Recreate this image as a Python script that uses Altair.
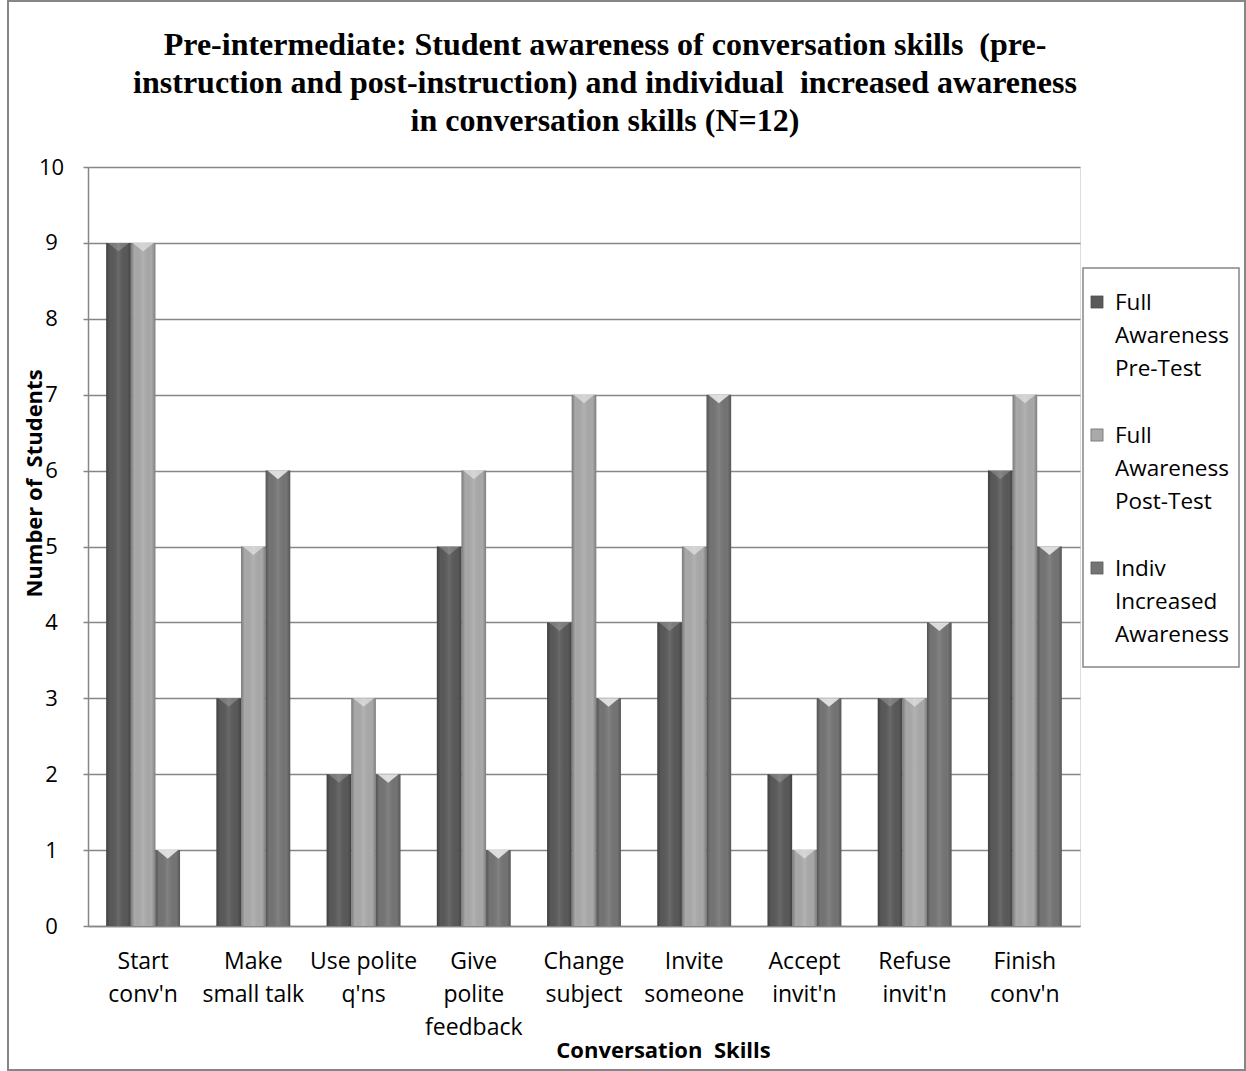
import altair as alt
import pandas as pd

categories = ["Start\nconv'n", "Make\nsmall talk", "Use polite\nq'ns", "Give\npolite\nfeedback",
              "Change\nsubject", "Invite\nsomeone", "Accept\ninvit'n", "Refuse\ninvit'n", "Finish\nconv'n"]
series = ["Full Awareness Pre-Test", "Full Awareness Post-Test", "Indiv Increased Awareness"]
legend_lines = [["Full", "Awareness", "Pre-Test"], ["Full", "Awareness", "Post-Test"],
                ["Indiv", "Increased", "Awareness"]]
pre_test = [9, 3, 2, 5, 4, 4, 2, 3, 6]
post_test = [9, 5, 3, 6, 7, 5, 1, 3, 7]
increased = [1, 6, 2, 1, 3, 7, 3, 4, 5]
colors = ["#595959", "#a9a9a9", "#747474"]
top_glow = [0.2, 0.75, 0.3]
NB = "\u00a0"
title_lines = ["Pre-intermediate: Student awareness of conversation skills" + NB + " (pre-",
               "instruction and post-instruction) and individual" + NB + " increased awareness",
               "in conversation skills (N=12)"]
x_title = "Conversation" + NB + " Skills"
y_title = "Number of" + NB + " Students"

rows = []
for s, vals in zip(series, [pre_test, post_test, increased]):
    for c, v in zip(categories, vals):
        rows.append({"category": c, "series": s, "value": v})
df = pd.DataFrame(rows)

W, H = 992, 759
GRAY = "#868686"
FONT = "Open Sans"

x_enc = alt.X("category:N", sort=categories,
              scale=alt.Scale(paddingInner=0.33, paddingOuter=0.165),
              axis=alt.Axis(title=x_title, labelAngle=0, ticks=False, tickSize=0,
                            labelExpr="split(datum.label, '\\n')", labelLineHeight=33,
                            labelBaseline="top", labelPadding=24, labelFont=FONT, labelFontSize=23,
                            labelColor="#000", domainColor=GRAY, domainWidth=1.5, grid=False,
                            titleFont=FONT, titleFontSize=22, titleFontWeight="bold",
                            titleColor="#000", titleX=575, titleY=124, titleBaseline="middle",
                            titleAnchor="start", titleAlign="center"))
xoff = alt.XOffset("series:N", sort=series, scale=alt.Scale(paddingInner=0, paddingOuter=0))
y_enc = alt.Y("value:Q", scale=alt.Scale(domain=[0, 10], nice=False),
              axis=alt.Axis(title=y_title, values=list(range(11)), format="d", tickSize=5,
                            tickColor=GRAY, tickWidth=1.5, domainColor=GRAY, domainWidth=1.5,
                            gridColor=GRAY, gridWidth=1.5, labelFont=FONT, labelFontSize=22,
                            labelColor="#000", labelAlign="center", labelPadding=32,
                            labelBaseline="middle",
                            titleFont=FONT, titleFontSize=22, titleFontWeight="bold",
                            titleColor="#000", titleX=-54, titleY=316, titleBaseline="middle",
                            titleAnchor="start", titleAlign="center", titleAngle=270))

base = alt.Chart(df)
bars = base.mark_bar().encode(
    x=x_enc, xOffset=xoff, y=y_enc,
    color=alt.Color("series:N", sort=series, scale=alt.Scale(domain=series, range=colors), legend=None),
)
shade = base.mark_bar(color=alt.LinearGradient(
    gradient="linear", x1=0, x2=1, y1=0, y2=0,
    stops=[alt.GradientStop(color="rgba(0,0,0,0.28)", offset=0),
           alt.GradientStop(color="rgba(0,0,0,0.0)", offset=0.15),
           alt.GradientStop(color="rgba(255,255,255,0.10)", offset=0.5),
           alt.GradientStop(color="rgba(0,0,0,0.0)", offset=0.85),
           alt.GradientStop(color="rgba(0,0,0,0.25)", offset=1)])).encode(
    x=alt.X("category:N", sort=categories), xOffset=xoff, y="value:Q")
tops = base.mark_point(shape="M-0.85,0 L0.85,0 L0,0.7 Z", filled=True, size=600,
                       color="white", strokeWidth=0).encode(
    x=alt.X("category:N", sort=categories), xOffset=xoff, y="value:Q",
    opacity=alt.Opacity("series:N", sort=series, scale=alt.Scale(domain=series, range=top_glow),
                        legend=None))

one = pd.DataFrame({"a": [0]})
layers = []

# outer frame of the chart
layers.append(alt.Chart(one).mark_rect(fill="transparent", stroke=GRAY, strokeWidth=2).encode(
    x=alt.value(-80), x2=alt.value(1157), y=alt.value(-166), y2=alt.value(903)))

layers += [bars, shade, tops]

# chart title
layers.append(alt.Chart(one).mark_text(align="center", baseline="alphabetic", font="Liberation Serif",
                                       fontSize=32, fontWeight="bold", lineHeight=38, color="#000").encode(
    x=alt.value(517), y=alt.value(-112), text=alt.value(title_lines)))

# legend box
layers.append(alt.Chart(one).mark_rect(fill="white", stroke=GRAY, strokeWidth=1.5).encode(
    x=alt.value(995), x2=alt.value(1151), y=alt.value(101), y2=alt.value(500)))
for i, (s, lines) in enumerate(zip(series, legend_lines)):
    yc = 135 + i * 133
    layers.append(alt.Chart(one).mark_square(size=150, opacity=1, stroke="#444", strokeWidth=0.5).encode(
        x=alt.value(1009), y=alt.value(yc), color=alt.value(colors[i])))
    layers.append(alt.Chart(one).mark_text(align="left", baseline="alphabetic", font=FONT,
                                           fontSize=22.5, lineHeight=33, color="#000").encode(
        x=alt.value(1027), y=alt.value(yc + 8), text=alt.value(lines)))

chart = alt.layer(*layers).properties(
    width=W, height=H,
    autosize=alt.AutoSizeParams(type="none"),
    padding={"left": 88, "top": 167, "right": 166, "bottom": 145},
).configure_view(stroke=GRAY, strokeWidth=1.5).configure(background="white")

chart.save("out.html", embed_options={"renderer": "svg", "actions": False})
